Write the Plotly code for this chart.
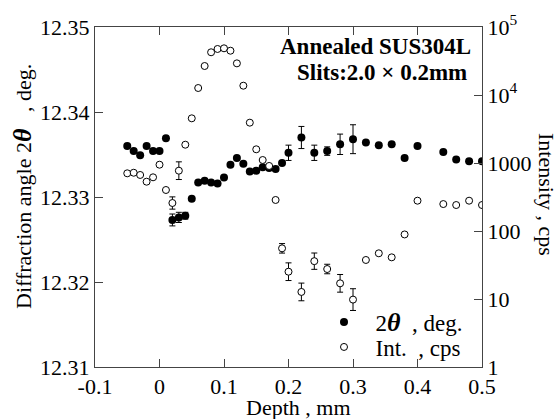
import plotly.graph_objects as go

# ---- data ----
depth_2t = [-0.05, -0.04, -0.03, -0.02, -0.01, 0.00, 0.01, 0.02, 0.03, 0.04,
            0.05, 0.06, 0.07, 0.08, 0.09, 0.10, 0.11, 0.12, 0.13, 0.14,
            0.15, 0.16, 0.17, 0.18, 0.19, 0.20, 0.22, 0.24, 0.26, 0.28,
            0.30, 0.32, 0.34, 0.36, 0.38, 0.40, 0.44, 0.46, 0.48, 0.50]
two_theta = [12.3360, 12.3354, 12.3349, 12.3360, 12.3354, 12.3354, 12.3369, 12.3273, 12.3276, 12.3278,
             12.3298, 12.3317, 12.3319, 12.3317, 12.3316, 12.3323, 12.3338, 12.3346, 12.3339, 12.3330,
             12.3331, 12.3335, 12.3334, 12.3333, 12.3340, 12.3352, 12.3370, 12.3352, 12.3354, 12.3362,
             12.3368, 12.3364, 12.3361, 12.3362, 12.3346, 12.3360, 12.3353, 12.3344, 12.3342, 12.3342]
two_theta_err = [0, 0, 0, 0, 0, 0, 0, 0.0007, 0.0006, 0.0004,
                 0, 0, 0, 0, 0, 0, 0, 0, 0, 0,
                 0, 0, 0, 0, 0, 0.0009, 0.0013, 0.0009, 0.0005, 0.0012,
                 0.0017, 0, 0, 0, 0, 0, 0, 0, 0, 0]

depth_int = depth_2t
intensity = [705, 719, 667, 531, 616, 944, 401, 258, 771, 1858,
             4540, 12670, 26700, 42500, 47500, 48600, 44800, 29200, 13700, 3920,
             1590, 1107, 905, 286, 55.6, 25.2, 12.7, 36.0, 27.6, 17.0,
             9.8, 37.5, 47.0, 41.0, 89.0, 279, 249, 241, 279, 241]
# intensity error, in decades (log10 factor)
intensity_err_dex = [0, 0, 0, 0, 0, 0, 0, 0.09, 0.13, 0,
                     0, 0, 0, 0, 0, 0, 0, 0, 0, 0,
                     0, 0, 0, 0, 0.07, 0.13, 0.13, 0.12, 0.07, 0.13,
                     0.16, 0, 0, 0, 0, 0, 0, 0, 0, 0]

x_ticks = [-0.1, 0, 0.1, 0.2, 0.3, 0.4, 0.5]
x_ticklabels = ["-0.1", "0", "0.1", "0.2", "0.3", "0.4", "0.5"]
y_ticks = [12.31, 12.32, 12.33, 12.34, 12.35]
y_ticklabels = ["12.31", "12.32", "12.33", "12.34", "12.35"]
y2_ticks = [1, 10, 100, 1000, 1e4, 1e5]
y2_ticklabels = ["1", "10", "100", "1000", "10<sup>4</sup>", "10<sup>5</sup>"]

FONT = "Liberation Serif, Times New Roman, serif"
NB = "\u00a0"
THETA = "<span style='font-size:26px'><b><i>θ</i></b></span>"

err_plus = [v * (10 ** e - 1) for v, e in zip(intensity, intensity_err_dex)]
err_minus = [v * (1 - 10 ** (-e)) for v, e in zip(intensity, intensity_err_dex)]

fig = go.Figure()
fig.add_trace(go.Scatter(
    x=depth_2t, y=two_theta, mode="markers",
    name=NB * 2 + "2" + THETA + NB * 2 + ", deg.",
    marker=dict(symbol="circle", size=8, color="black", line=dict(width=0)),
    error_y=dict(type="data", array=two_theta_err, visible=True,
                 color="black", thickness=1, width=3),
    legend="legend", yaxis="y",
))
fig.add_trace(go.Scatter(
    x=depth_int, y=intensity, mode="markers",
    name=NB * 2 + "Int." + NB + " , cps",
    marker=dict(symbol="circle", size=7, color="white",
                line=dict(width=1, color="black")),
    error_y=dict(type="data", array=err_plus, arrayminus=err_minus,
                 symmetric=False, visible=True,
                 color="black", thickness=1, width=3),
    legend="legend2", yaxis="y2",
))

L, R, T, B = 95, 76, 27, 52
W, H = 558, 419
pw, ph = W - L - R, H - T - B


def px_x(px):
    return (px - L) / pw


def px_y(py):
    return (H - B - py) / ph


fig.update_layout(
    width=W, height=H,
    margin=dict(l=L, r=R, t=T, b=B),
    paper_bgcolor="white", plot_bgcolor="white",
    font=dict(family=FONT, size=22, color="black"),
    showlegend=True,
    xaxis=dict(range=[-0.1, 0.5], tickvals=x_ticks, ticktext=x_ticklabels,
               ticks="inside", ticklen=8, tickcolor="#444", showline=True,
               linecolor="#444", linewidth=1, mirror="ticks", showgrid=False,
               zeroline=False, tickfont=dict(size=22)),
    yaxis=dict(range=[12.31, 12.35], tickvals=y_ticks, ticktext=y_ticklabels,
               ticks="inside", ticklen=8, tickcolor="#444", showline=True,
               linecolor="#444", linewidth=1, showgrid=False, zeroline=False,
               tickfont=dict(size=22)),
    yaxis2=dict(type="log", range=[0, 5], overlaying="y", side="right",
                tickvals=y2_ticks, ticktext=y2_ticklabels,
                ticks="inside", ticklen=8, tickcolor="#444", showline=True,
                linecolor="#444", linewidth=1, showgrid=False, zeroline=False,
                tickfont=dict(size=22)),
    legend=dict(x=px_x(324), y=px_y(322), xanchor="left", yanchor="middle",
                bgcolor="rgba(0,0,0,0)", font=dict(size=23), itemwidth=30,
                borderwidth=0),
    legend2=dict(x=px_x(324), y=px_y(347), xanchor="left", yanchor="middle",
                 bgcolor="rgba(0,0,0,0)", font=dict(size=23), itemwidth=30,
                 borderwidth=0),
    annotations=[
        dict(text="<b>Annealed SUS304L</b>", xref="paper", yref="paper",
             x=px_x(473), y=px_y(46), xanchor="right", yanchor="middle",
             showarrow=False, font=dict(size=23)),
        dict(text="<b>Slits:2.0 × 0.2mm</b>", xref="paper", yref="paper",
             x=px_x(469), y=px_y(73), xanchor="right", yanchor="middle",
             showarrow=False, font=dict(size=23)),
        dict(text="Diffraction angle 2" + THETA + NB * 3 + ", deg.",
             xref="paper", yref="paper",
             x=px_x(22), y=px_y(187), xanchor="center", yanchor="middle",
             textangle=-90, showarrow=False, font=dict(size=22)),
        dict(text="Intensity , cps", xref="paper", yref="paper",
             x=px_x(547), y=px_y(194), xanchor="center", yanchor="middle",
             textangle=90, showarrow=False, font=dict(size=22)),
        dict(text="Depth , mm", xref="paper", yref="paper",
             x=px_x(298), y=px_y(407), xanchor="center", yanchor="middle",
             showarrow=False, font=dict(size=22)),
    ],
)

fig.write_html("out.html", config={"displayModeBar": False},
               post_script="document.body.style.margin='0px';")
